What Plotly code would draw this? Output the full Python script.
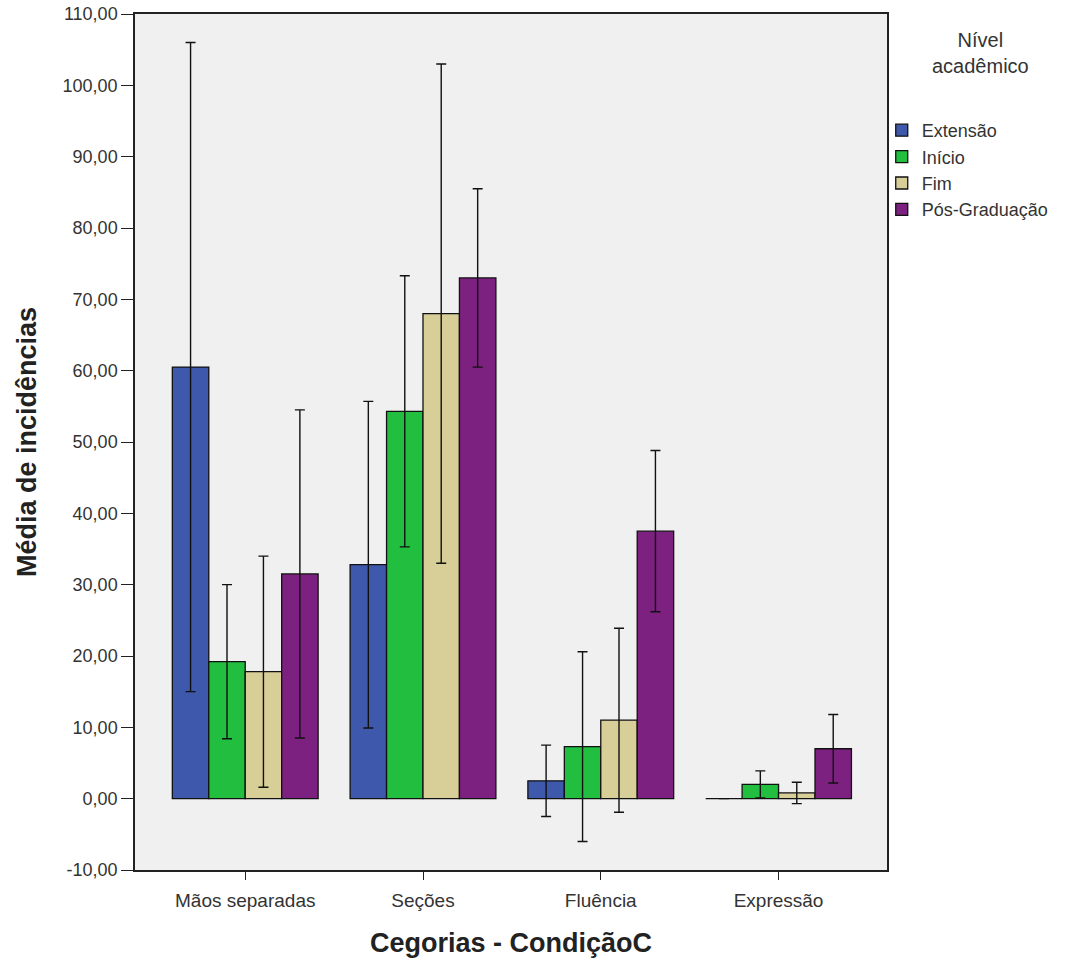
import plotly.graph_objects as go

categories = ["Mãos separadas", "Seções", "Fluência", "Expressão"]
series_names = ["Extensão", "Início", "Fim", "Pós-Graduação"]
means = {
    "Extensão": [60.5, 32.8, 2.5, 0.0],
    "Início": [19.2, 54.3, 7.3, 2.0],
    "Fim": [17.8, 68.0, 11.0, 0.8],
    "Pós-Graduação": [31.5, 73.0, 37.5, 7.0],
}
errors = {
    "Extensão": [45.5, 22.9, 5.0, 0.0],
    "Início": [10.8, 19.0, 13.3, 1.9],
    "Fim": [16.2, 35.0, 12.9, 1.5],
    "Pós-Graduação": [23.0, 12.5, 11.3, 4.8],
}
colors = {
    "Extensão": "#3E58AC",
    "Início": "#22BE40",
    "Fim": "#D8CF98",
    "Pós-Graduação": "#7D2180",
}
y_ticks = list(range(-10, 111, 10))
y_ticktext = [f"{v:.2f}".replace(".", ",") for v in y_ticks]
legend_title = "Nível<br>acadêmico"

fig = go.Figure()
for name in series_names:
    fig.add_trace(go.Bar(
        name=name,
        x=categories,
        y=means[name],
        marker=dict(color=colors[name], line=dict(color="#111111", width=1.3)),
        error_y=dict(type="data", array=errors[name], visible=True,
                     color="#111111", thickness=1.4, width=5),
    ))

font_family = "Liberation Sans, Arial, sans-serif"
fig.update_layout(
    width=1073, height=961,
    barmode="group", bargap=0.18, bargroupgap=0,
    paper_bgcolor="white", plot_bgcolor="#F0F0F0",
    margin=dict(l=135, r=186, t=14, b=91),
    font=dict(family=font_family, size=16, color="#333333"),
    legend=dict(
        x=0.993, xanchor="left", y=0.8855, yanchor="top",
        font=dict(size=18, color="#333333"),
        itemwidth=30, tracegroupgap=0,
        bgcolor="rgba(0,0,0,0)",
    ),
    annotations=[dict(
        text=legend_title, xref="paper", yref="paper",
        x=1.1237, y=0.955, xanchor="center", yanchor="middle",
        showarrow=False, align="center",
        font=dict(size=20, color="#333333"),
    )],
    xaxis=dict(
        range=[-0.62, 3.61], automargin=False,
        showline=True, linecolor="#222222", linewidth=1.5, mirror=True,
        ticks="outside", ticklen=8, tickcolor="#222222",
        tickfont=dict(size=19, color="#333333"),
        ticklabelstandoff=4,
        title=dict(text="<b>Cegorias - CondiçãoC</b>", font=dict(size=27, color="#222222"), standoff=24),
        showgrid=False,
    ),
    yaxis=dict(
        range=[-10, 110], tickvals=y_ticks, ticktext=y_ticktext, automargin=False,
        showline=True, linecolor="#222222", linewidth=1.5, mirror=True,
        ticks="outside", ticklen=12, tickcolor="#222222",
        tickfont=dict(size=18, color="#333333"),
        ticklabelstandoff=0,
        title=dict(text="<b>Média de incidências</b>", font=dict(size=27, color="#222222"), standoff=18),
        showgrid=False, zeroline=False,
    ),
)

fig.write_html("out.html")
